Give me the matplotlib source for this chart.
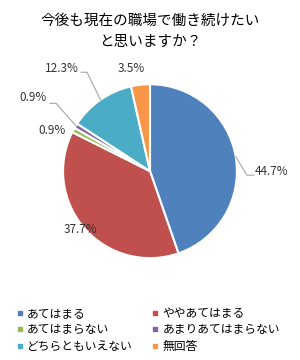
import matplotlib.pyplot as plt
from matplotlib.lines import Line2D
import numpy as np

plt.rcParams['font.family'] = ['Noto Sans CJK JP', 'DejaVu Sans']

title = '今後も現在の職場で働き続けたい\nと思いますか？'
categories = ['あてはまる', 'ややあてはまる', 'あてはまらない',
              'あまりあてはまらない', 'どちらともいえない', '無回答']
values = [44.7, 37.7, 0.9, 0.9, 12.3, 3.5]
colors = ['#4F81BD', '#C0504D', '#9BBB59', '#8064A2', '#4BACC6', '#F79646']

# label centres (data units of the pie axes)
label_pos = [(1.40, 0.0), (-0.80, -0.67), (-1.13, 0.47),
             (-1.345, 0.85), (-1.01, 1.18), (-0.21, 1.18)]
# leader line: elbow point and end point next to the label (None = no leader)
leaders = [((1.115, -0.046), (1.195, -0.046)), None, None,
           ((-1.08, 0.78), (-1.15, 0.78)),
           ((-0.724, 1.138), (-0.793, 1.138)), None]

fig = plt.figure(figsize=(3.0, 3.6), dpi=100)
fig.text(0.5, 0.9125, title, ha='center', va='center', fontsize=10.5,
         linespacing=1.6)

ax = fig.add_axes([0.21, 0.283, 0.58, 0.483])
wedges, _ = ax.pie(values, colors=colors, startangle=90, counterclock=False,
                   radius=1.0, wedgeprops=dict(edgecolor='white', linewidth=1.5))
ax.set_xlim(-1, 1)
ax.set_ylim(-1, 1)
ax.set_aspect('equal')

for w, v, pos, lead in zip(wedges, values, label_pos, leaders):
    ax.text(pos[0], pos[1], f'{v:.1f}%', ha='center', va='center',
            fontsize=8.5, color='#333333')
    if lead is not None:
        mid = np.deg2rad((w.theta1 + w.theta2) / 2)
        edge = (1.0 * np.cos(mid), 1.0 * np.sin(mid))
        xs = [edge[0], lead[0][0], lead[1][0]]
        ys = [edge[1], lead[0][1], lead[1][1]]
        ax.plot(xs, ys, color='#a6a6a6', lw=0.8, clip_on=False)

handles = [Line2D([], [], marker='s', linestyle='', markersize=3.5,
                  markerfacecolor=c, markeredgecolor=c) for c in colors]
order = [0, 2, 4, 1, 3, 5]
fig.legend([handles[i] for i in order], [categories[i] for i in order],
           ncol=2, loc='upper left', bbox_to_anchor=(0.055, 0.148),
           frameon=False, fontsize=8.5, handlelength=0.6, handletextpad=0.3,
           columnspacing=1.6, labelspacing=0.3, borderpad=0, borderaxespad=0)

fig.savefig('out.png', dpi=100, facecolor='white')
